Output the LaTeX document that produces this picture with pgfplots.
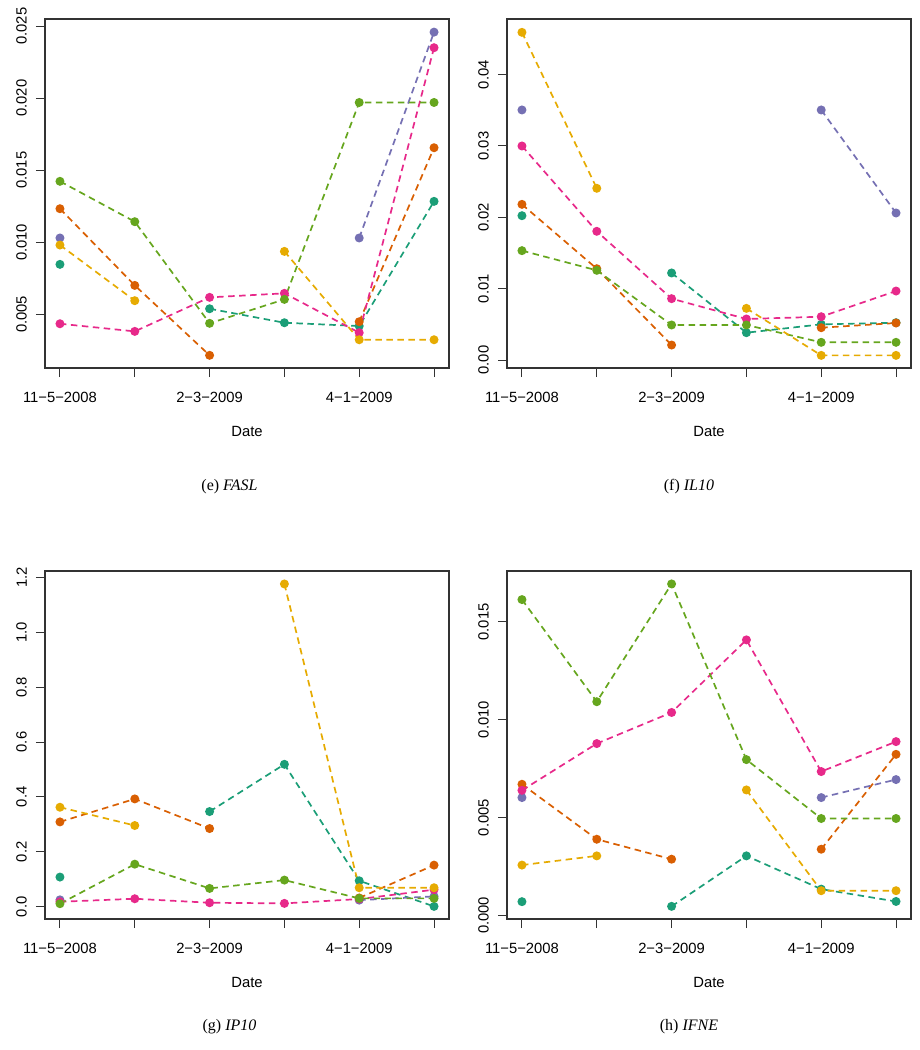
\documentclass[border=0pt]{standalone}
\usepackage{pgfplots}
\pgfplotsset{compat=1.18}
\usepackage{fontspec}
\setmainfont{Liberation Serif}
\newfontfamily\axisfont{Liberation Sans}
\definecolor{cteal}{HTML}{1B9E77}
\definecolor{corange}{HTML}{D95F02}
\definecolor{cpurple}{HTML}{7570B3}
\definecolor{cpink}{HTML}{E7298A}
\definecolor{cgreen}{HTML}{66A61E}
\definecolor{cyellow}{HTML}{E6AB02}
\pgfplotsset{
  rplot/.style={
    scale only axis, width=404pt, height=349pt,
    xmin=-0.2, xmax=5.2,
    xtick={0,1,2,3,4,5},
    xticklabels={11−5−2008,,2−3−2009,,4−1−2009,},
    tick align=outside, major tick length=9pt,
    xtick pos=bottom, ytick pos=left,
    tick style={black!80, line width=1pt},
    axis line style={black!80, line width=1.2pt},
    unbounded coords=jump,
    /pgf/number format/assume math mode=true,
    ticklabel style={font=\axisfont\fontsize{14.8}{16}\selectfont, text=black},
    xticklabel style={anchor=north, inner sep=0pt, yshift=-15pt},
    yticklabel style={xshift=-9pt, rotate=90, anchor=south, inner sep=0pt},
    scaled y ticks=false,
    xlabel={Date},
    xlabel style={font=\axisfont\fontsize{14.8}{16}\selectfont, at={(axis description cs:0.5,0)}, anchor=north, inner sep=0pt, yshift=-58pt},
    every axis plot/.append style={line width=1.7pt, dash pattern=on 6.5pt off 4.5pt, mark=*, mark size=3.6pt, mark options={solid}},
  }
}
\begin{document}
\begin{tikzpicture}
\path[use as bounding box] (0,0) rectangle (919pt,-1050pt);
% (e) FASL
\begin{axis}[rplot, at={(45pt,-368pt)}, anchor=south west,
  ymin=0.00128, ymax=0.02549,
  ytick={0.005,0.010,0.015,0.020,0.025},
  yticklabel style={/pgf/number format/.cd, fixed, fixed zerofill, precision=3}]
\addplot[cteal] coordinates {(0,0.00847)(1,nan)(2,0.00539)(3,0.00442)(4,0.00419)(5,0.01284)};
\addplot[corange] coordinates {(0,0.01233)(1,0.00701)(2,0.00216)(3,nan)(4,0.00449)(5,0.01656)};
\addplot[cpurple] coordinates {(0,0.0103)(1,nan)(2,nan)(3,nan)(4,0.0103)(5,0.02458)};
\addplot[cpink] coordinates {(0,0.00435)(1,0.00382)(2,0.00618)(3,0.00646)(4,0.00373)(5,0.0235)};
\addplot[cgreen] coordinates {(0,0.01423)(1,0.01143)(2,0.00438)(3,0.00604)(4,0.0197)(5,0.0197)};
\addplot[cyellow] coordinates {(0,0.00981)(1,0.00595)(2,nan)(3,0.00937)(4,0.00324)(5,0.00324)};
\end{axis}
% (f) IL10
\begin{axis}[rplot, at={(507pt,-368pt)}, anchor=south west,
  ymin=-0.00112, ymax=0.0478,
  ytick={0,0.01,0.02,0.03,0.04},
  yticklabel style={/pgf/number format/.cd, fixed, fixed zerofill, precision=2}]
\addplot[cteal] coordinates {(0,0.02023)(1,nan)(2,0.0122)(3,0.00383)(4,0.005)(5,0.00523)};
\addplot[corange] coordinates {(0,0.02182)(1,0.0128)(2,0.0021)(3,nan)(4,0.00453)(5,0.00519)};
\addplot[cpurple] coordinates {(0,0.03505)(1,nan)(2,nan)(3,nan)(4,0.03505)(5,0.02061)};
\addplot[cpink] coordinates {(0,0.0300)(1,0.01804)(2,0.0086)(3,0.00575)(4,0.00607)(5,0.00967)};
\addplot[cgreen] coordinates {(0,0.01533)(1,0.01257)(2,0.00491)(3,0.00491)(4,0.00248)(5,0.00248)};
\addplot[cyellow] coordinates {(0,0.04593)(1,0.02407)(2,nan)(3,0.00724)(4,0.00065)(5,0.00065)};
\end{axis}
% (g) IP10
\begin{axis}[rplot, at={(45pt,-919pt)}, anchor=south west, height=348pt,
  ymin=-0.0448, ymax=1.223,
  ytick={0,0.2,0.4,0.6,0.8,1.0,1.2},
  yticklabel style={/pgf/number format/.cd, fixed, fixed zerofill, precision=1}]
\addplot[cteal] coordinates {(0,0.108)(1,nan)(2,0.3467)(3,0.5188)(4,0.0945)(5,0.0012)};
\addplot[corange] coordinates {(0,0.309)(1,0.3927)(2,0.2848)(3,nan)(4,0.032)(5,0.1515)};
\addplot[cpurple] coordinates {(0,0.025)(1,nan)(2,nan)(3,nan)(4,0.024)(5,0.0376)};
\addplot[cpink] coordinates {(0,0.018)(1,0.029)(2,0.0145)(3,0.0121)(4,0.028)(5,0.062)};
\addplot[cgreen] coordinates {(0,0.011)(1,0.155)(2,0.0667)(3,0.097)(4,0.0303)(5,0.0303)};
\addplot[cyellow] coordinates {(0,0.3624)(1,0.2958)(2,nan)(3,1.1758)(4,0.0691)(5,0.0691)};
\end{axis}
% (h) IFNE
\begin{axis}[rplot, at={(507pt,-919pt)}, anchor=south west, height=348pt,
  ymin=-0.000187, ymax=0.0176,
  ytick={0,0.005,0.010,0.015},
  yticklabel style={/pgf/number format/.cd, fixed, fixed zerofill, precision=3}]
\addplot[cteal] coordinates {(0,0.0007)(1,nan)(2,0.00046)(3,0.00304)(4,0.00134)(5,0.00071)};
\addplot[corange] coordinates {(0,0.0067)(1,0.00389)(2,0.00287)(3,nan)(4,0.00338)(5,0.00823)};
\addplot[cpurple] coordinates {(0,0.00602)(1,nan)(2,nan)(3,nan)(4,0.00602)(5,0.00694)};
\addplot[cpink] coordinates {(0,0.00639)(1,0.00878)(2,0.01037)(3,0.01408)(4,0.00735)(5,0.00888)};
\addplot[cgreen] coordinates {(0,0.01614)(1,0.01092)(2,0.01694)(3,0.00796)(4,0.00495)(5,0.00495)};
\addplot[cyellow] coordinates {(0,0.00257)(1,0.00304)(2,nan)(3,0.00641)(4,0.00126)(5,0.00126)};
\end{axis}
\node[font=\fontsize{16}{18}\selectfont] at (229.5pt,-487pt) {(e) \textit{FASL}};
\node[font=\fontsize{16}{18}\selectfont] at (689pt,-487pt) {(f) \textit{IL10}};
\node[font=\fontsize{16}{18}\selectfont] at (229.5pt,-1027pt) {(g) \textit{IP10}};
\node[font=\fontsize{16}{18}\selectfont] at (689pt,-1027pt) {(h) \textit{IFNE}};
\end{tikzpicture}
\end{document}
